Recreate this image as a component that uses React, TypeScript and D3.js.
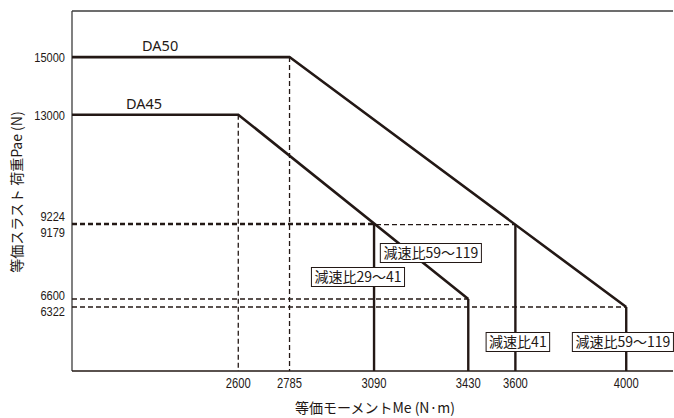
import React, { useEffect, useRef } from "react";
import * as d3 from "d3";

const W = 674;
const H = 418;

const xTicks = [2600, 2785, 3090, 3430, 3600, 4000];
const yTicks = [15000, 13000, 9224, 9179, 6600, 6322];

const seriesNames = ["DA50", "DA45"];
const da50X = [2000, 2785, 4000];
const da50Y = [15000, 15000, 6322];
const da45X = [2000, 2600, 3430];
const da45Y = [13000, 13000, 6600];
const seriesLabelX = [2318, 2260];

// solid drop lines from curve points to the x axis
const dropX = [3090, 3430, 3600, 4000];
const dropY = [9224, 6600, 9179, 6322];

// dashed guide lines
const guideVX = [2600, 2785];
const guideVY = [13000, 15000];
const guideHY = [9224, 9179, 6600, 6322];
const guideHX = [3090, 3600, 3430, 4000];

const ratioLabels = ["減速比59〜119", "減速比29〜41", "減速比41", "減速比59〜119"];
const ratioX = [3295, 3032, 3609, 3988];
const ratioY = [8197, 7364, 5107, 5107];

const xTitle = "等価モーメントMe (N·m)";
const yTitle = "等価スラスト 荷重Pae (N)";

const INK = "#231815";
const AXIS = "#3d3d3d";
const JP = "'Noto Sans CJK JP', 'Noto Sans', sans-serif";
const NUM = "'Noto Sans', 'Liberation Sans', sans-serif";
const TICK = "'Liberation Sans', Arial, sans-serif";

export default function App() {
  const ref = useRef<SVGSVGElement | null>(null);

  useEffect(() => {
    const svg = d3.select(ref.current);
    svg.selectAll("*").remove();

    const x = d3.scaleLinear().domain([2000, 4176]).range([72, 675]);
    const y = d3.scaleLinear().domain([4100, 16600]).range([371, 11]);
    const x0 = x(2000);
    const yBase = y(4100);

    // axes frame
    svg.append("line").attr("x1", x0).attr("x2", x0).attr("y1", y(16600)).attr("y2", yBase)
      .attr("stroke", AXIS).attr("stroke-width", 1.3);
    svg.append("line").attr("x1", x0).attr("x2", 673).attr("y1", y(16600)).attr("y2", y(16600))
      .attr("stroke", AXIS).attr("stroke-width", 1.3);

    // dashed guides
    const dash = "5,3";
    guideVX.forEach((v, i) => {
      svg.append("line").attr("x1", x(v)).attr("x2", x(v)).attr("y1", y(guideVY[i])).attr("y2", yBase)
        .attr("stroke", INK).attr("stroke-width", 1.3).attr("stroke-dasharray", dash);
    });
    guideHY.forEach((v, i) => {
      svg.append("line").attr("x1", x0).attr("x2", x(guideHX[i])).attr("y1", y(v)).attr("y2", y(v))
        .attr("stroke", INK).attr("stroke-width", 1.3).attr("stroke-dasharray", dash);
    });

    // drop lines
    dropX.forEach((v, i) => {
      svg.append("line").attr("x1", x(v)).attr("x2", x(v)).attr("y1", y(dropY[i])).attr("y2", yBase)
        .attr("stroke", INK).attr("stroke-width", 2.4);
    });

    // series lines
    const line = d3.line<[number, number]>().x((d) => x(d[0])).y((d) => y(d[1]));
    const series = [
      { xs: da50X, ys: da50Y },
      { xs: da45X, ys: da45Y },
    ];
    series.forEach((s, si) => {
      const pts = s.xs.map((v, i) => [v, s.ys[i]] as [number, number]);
      svg.append("path").attr("d", line(pts)).attr("fill", "none")
        .attr("stroke", INK).attr("stroke-width", 2.6).attr("stroke-linejoin", "miter");
      svg.append("text").attr("x", x(seriesLabelX[si])).attr("y", y(s.ys[0]) - 6)
        .attr("text-anchor", "middle").attr("font-family", NUM).attr("font-size", 14.5)
        .attr("fill", INK).text(seriesNames[si]);
    });

    // bottom axis line
    svg.append("line").attr("x1", x0).attr("x2", 673).attr("y1", yBase).attr("y2", yBase)
      .attr("stroke", INK).attr("stroke-width", 1.6);

    // x tick labels
    xTicks.forEach((v) => {
      svg.append("text")
        .attr("transform", `translate(${x(v)},${yBase + 17}) scale(0.8,1)`)
        .attr("text-anchor", "middle").attr("font-family", TICK).attr("font-size", 14)
        .attr("fill", INK).text(String(v));
    });

    // y tick labels with simple collision spreading
    const fs = 13.5;
    const minGap = fs * 1.13;
    const adj = yTicks.map((v) => y(v));
    for (let i = 0; i < adj.length - 1; i++) {
      const gap = adj[i + 1] - adj[i];
      if (gap < minGap) {
        const push = (minGap - gap) / 2;
        adj[i] -= push;
        adj[i + 1] += push;
      }
    }
    yTicks.forEach((v, i) => {
      svg.append("text")
        .attr("transform", `translate(${x0 - 7},${adj[i] + 5}) scale(0.82,1)`)
        .attr("text-anchor", "end").attr("font-family", TICK).attr("font-size", fs)
        .attr("fill", INK).text(String(v));
    });

    // ratio label boxes
    ratioLabels.forEach((t, i) => {
      const g = svg.append("g").attr("transform", `translate(${x(ratioX[i])},${y(ratioY[i])})`);
      const rect = g.append("rect").attr("fill", "#fff").attr("stroke", INK).attr("stroke-width", 1);
      const txt = g.append("text").attr("text-anchor", "middle").attr("y", 5)
        .attr("font-family", JP).attr("font-size", 14).attr("fill", INK).text(t);
      const bb = (txt.node() as SVGTextElement).getBBox();
      rect.attr("x", -bb.width / 2 - 3).attr("y", -9.5).attr("width", bb.width + 6).attr("height", 19);
    });

    // titles
    svg.append("text").attr("x", 375).attr("y", 413).attr("text-anchor", "middle")
      .attr("font-family", JP).attr("font-size", 14).attr("fill", INK).text(xTitle);
    svg.append("text").attr("transform", `translate(22,192) rotate(-90)`).attr("text-anchor", "middle")
      .attr("font-family", JP).attr("font-size", 14).attr("fill", INK).text(yTitle);
  }, []);

  return (
    <svg
      ref={ref}
      width={W}
      height={H}
      style={{ position: "absolute", left: 0, top: 0, background: "#fff" }}
    />
  );
}
